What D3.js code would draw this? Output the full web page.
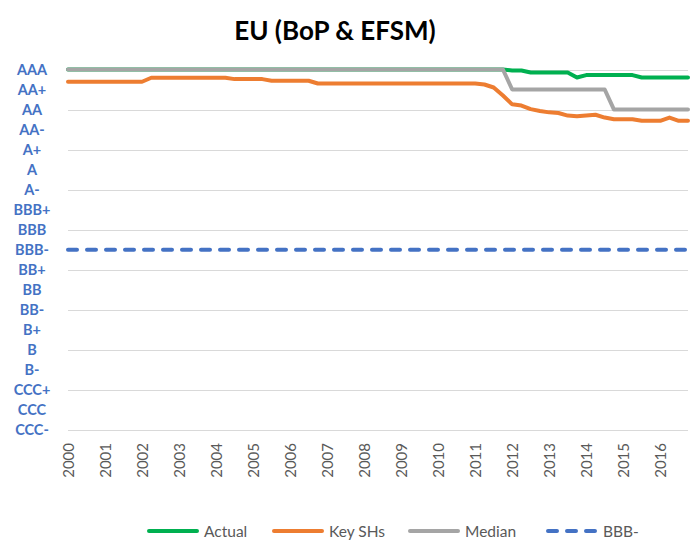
<!DOCTYPE html>
<html>
<head>
<meta charset="utf-8">
<script src="https://cdn.jsdelivr.net/npm/d3@7"></script>
<style>
  body { margin: 0; background: #fff; }
  svg { display: block; font-family: Lato, "Open Sans", sans-serif; }
</style>
</head>
<body>
<svg width="697" height="548"></svg>
<script>
'use strict';

// rating notches, top to bottom (AAA = 19 ... CCC- = 1)
var ratings = ['AAA', 'AA+', 'AA', 'AA-', 'A+', 'A', 'A-', 'BBB+', 'BBB', 'BBB-',
  'BB+', 'BB', 'BB-', 'B+', 'B', 'B-', 'CCC+', 'CCC', 'CCC-'];

var years = [2000, 2001, 2002, 2003, 2004, 2005, 2006, 2007, 2008,
  2009, 2010, 2011, 2012, 2013, 2014, 2015, 2016];

// quarterly series, 2000Q1 .. 2016Q4
var actual = [
  19, 19, 19, 19, 19, 19, 19, 19, 19, 19, 19, 19, 19, 19, 19, 19,
  19, 19, 19, 19, 19, 19, 19, 19, 19, 19, 19, 19, 19, 19, 19, 19,
  19, 19, 19, 19, 19, 19, 19, 19, 19, 19, 19, 19, 19, 19, 19, 19,
  18.95, 18.95, 18.85, 18.85, 18.85, 18.85, 18.85, 18.6,
  18.72, 18.72, 18.72, 18.72, 18.72, 18.72, 18.6, 18.6, 18.6, 18.6, 18.6, 18.6
];

var keySHs = [
  18.39, 18.39, 18.39, 18.39, 18.39, 18.39, 18.39, 18.39, 18.39,
  18.59, 18.59, 18.59, 18.59, 18.59, 18.59, 18.59, 18.59, 18.59,
  18.52, 18.52, 18.52, 18.52,
  18.44, 18.44, 18.44, 18.44, 18.44,
  18.30, 18.30, 18.30, 18.30, 18.30, 18.30, 18.30, 18.30, 18.30,
  18.30, 18.30, 18.30, 18.30, 18.30, 18.30, 18.30, 18.30, 18.30,
  18.25, 18.10, 17.70, 17.26, 17.20, 17.02, 16.93, 16.86, 16.83,
  16.70, 16.66, 16.70, 16.74, 16.60, 16.52, 16.52, 16.52,
  16.44, 16.44, 16.44, 16.60, 16.44, 16.44
];

var median = [
  19, 19, 19, 19, 19, 19, 19, 19, 19, 19, 19, 19, 19, 19, 19, 19,
  19, 19, 19, 19, 19, 19, 19, 19, 19, 19, 19, 19, 19, 19, 19, 19,
  19, 19, 19, 19, 19, 19, 19, 19, 19, 19, 19, 19, 19, 19, 19, 19,
  18, 18, 18, 18, 18, 18, 18, 18, 18, 18, 18,
  17, 17, 17, 17, 17, 17, 17, 17, 17
];

var bbbMinus = 10;

var quarters = [];
years.forEach(function (y) {
  ['Q1', 'Q2', 'Q3', 'Q4'].forEach(function (q) { quarters.push(y + q); });
});

var series = [
  { name: 'Actual', values: actual, color: '#00B050' },
  { name: 'Key SHs', values: keySHs, color: '#ED7D31' },
  { name: 'Median', values: median, color: '#A5A5A5' }
];

var svg = d3.select('svg');

var x = d3.scalePoint()
  .domain(quarters)
  .range([68, 688]);

var y = d3.scaleLinear()
  .domain([1, 19])
  .range([430, 69.5]);

// title
svg.append('text')
  .attr('x', 335)
  .attr('y', 40)
  .attr('text-anchor', 'middle')
  .attr('font-size', 26)
  .attr('font-weight', 'bold')
  .attr('fill', '#000')
  .text('EU (BoP & EFSM)');

// gridlines every second notch
var grid = svg.append('g').attr('class', 'grid');
grid.selectAll('line')
  .data(d3.range(1, 20, 2))
  .enter()
  .append('line')
  .attr('x1', x.range()[0])
  .attr('x2', x.range()[1])
  .attr('y1', function (d) { return Math.round(y(d)) + 0.5; })
  .attr('y2', function (d) { return Math.round(y(d)) + 0.5; })
  .attr('stroke', '#D9D9D9')
  .attr('stroke-width', 1);

// y labels (rating notches)
svg.append('g')
  .selectAll('text')
  .data(ratings)
  .enter()
  .append('text')
  .attr('x', 32)
  .attr('y', function (d, i) { return y(19 - i); })
  .attr('dy', '0.36em')
  .attr('text-anchor', 'middle')
  .attr('font-size', 14.5)
  .attr('font-weight', 'bold')
  .attr('fill', '#4472C4')
  .text(function (d) { return d; });

// x axis, year labels on first quarter
var xAxis = d3.axisBottom(x)
  .tickValues(years.map(function (d) { return d + 'Q1'; }))
  .tickFormat(function (d) { return d.slice(0, 4); })
  .tickSize(0);

var gx = svg.append('g')
  .attr('transform', 'translate(0,443)')
  .call(xAxis);
gx.select('.domain').remove();
gx.selectAll('text')
  .attr('transform', 'rotate(-90)')
  .attr('x', 0)
  .attr('y', 0)
  .attr('dy', '0.36em')
  .attr('text-anchor', 'end')
  .attr('font-family', 'Lato, "Open Sans", sans-serif')
  .attr('font-size', 15)
  .attr('fill', '#595959');

var line = d3.line()
  .x(function (d, i) { return x(quarters[i]); })
  .y(function (d) { return y(d); });

svg.append('g')
  .selectAll('path')
  .data(series)
  .enter()
  .append('path')
  .attr('d', function (d) { return line(d.values); })
  .attr('fill', 'none')
  .attr('stroke', function (d) { return d.color; })
  .attr('stroke-width', 4)
  .attr('stroke-linejoin', 'round')
  .attr('stroke-linecap', 'round');

// BBB- threshold
svg.append('line')
  .attr('x1', x(quarters[0]))
  .attr('x2', x(quarters[quarters.length - 1]))
  .attr('y1', y(bbbMinus))
  .attr('y2', y(bbbMinus))
  .attr('stroke', '#4472C4')
  .attr('stroke-width', 4)
  .attr('stroke-linecap', 'round')
  .attr('stroke-dasharray', '9,10');

// legend
var legendItems = [
  { name: 'Actual', color: '#00B050', dash: null, x: 147 },
  { name: 'Key SHs', color: '#ED7D31', dash: null, x: 272 },
  { name: 'Median', color: '#A5A5A5', dash: null, x: 408 },
  { name: 'BBB-', color: '#4472C4', dash: '9,10', x: 546 }
];

var legend = svg.append('g')
  .selectAll('g')
  .data(legendItems)
  .enter()
  .append('g')
  .attr('transform', function (d) { return 'translate(' + d.x + ',531)'; });

legend.append('line')
  .attr('x1', 2)
  .attr('x2', 50)
  .attr('stroke', function (d) { return d.color; })
  .attr('stroke-width', 4)
  .attr('stroke-linecap', 'round')
  .attr('stroke-dasharray', function (d) { return d.dash; });

legend.append('text')
  .attr('x', 57)
  .attr('dy', '0.36em')
  .attr('font-size', 15.5)
  .attr('fill', '#595959')
  .text(function (d) { return d.name; });
</script>
</body>
</html>
